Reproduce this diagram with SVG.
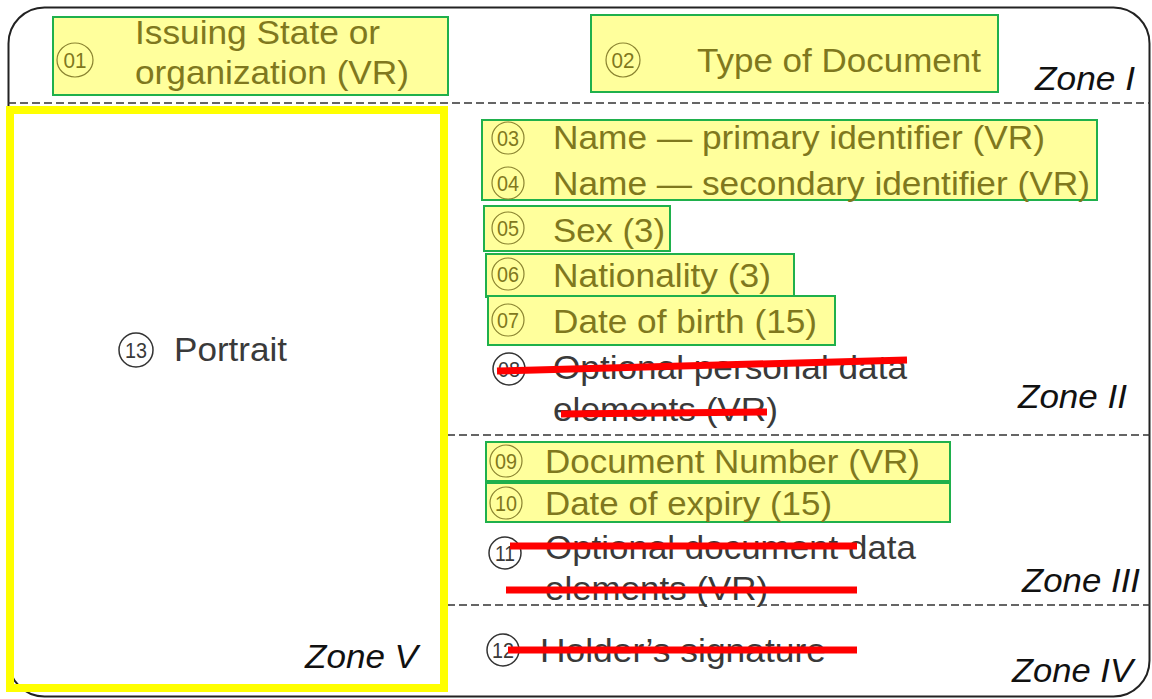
<svg xmlns="http://www.w3.org/2000/svg" width="1152" height="699" viewBox="0 0 1152 699">
<style>
.hl{fill:#ffff9c;stroke:#1fb04c;stroke-width:2}
.t{font-family:"Liberation Sans",Arial,sans-serif;font-size:34px}
.ol{fill:#7f781e}
.dk{fill:#3a3a3a}
.z{font-family:"Liberation Sans",Arial,sans-serif;font-size:34px;font-style:italic;fill:#111}
.n{font-family:"Liberation Sans",Arial,sans-serif;font-size:22px;text-anchor:middle}
.co{fill:none;stroke:#8a8330;stroke-width:1.2}
.cd{fill:none;stroke:#333;stroke-width:1.5}
.dash{stroke:#333;stroke-width:1.5;stroke-dasharray:8 4;fill:none}
.red{stroke:#ff0000;stroke-width:7;stroke-linecap:butt}
</style>
<rect x="0" y="0" width="1152" height="699" fill="#fff"/>
<rect x="8.5" y="7.5" width="1141" height="689" rx="36" fill="none" stroke="#222" stroke-width="2"/>
<g id="connectors">
<line class="dash" x1="8" y1="103" x2="1150" y2="103"/>
<line class="dash" x1="447" y1="435" x2="1150" y2="435"/>
<line class="dash" x1="447" y1="605" x2="1150" y2="605"/>
</g>
<g id="zone5">
<rect x="10" y="110" width="434" height="578" fill="none" stroke="#ffff00" stroke-width="8"/>
<text class="z" x="305" y="668" textLength="113" lengthAdjust="spacingAndGlyphs">Zone V</text>
</g>
<g id="n13">
<circle class="cd" cx="136" cy="350" r="17"/>
<text class="n dk" x="136" y="358" textLength="22" lengthAdjust="spacingAndGlyphs">13</text>
<text class="t dk" x="174" y="361" textLength="113" lengthAdjust="spacingAndGlyphs">Portrait</text>
</g>
<g id="n01">
<rect class="hl" x="53" y="17" width="395" height="78"/>
<ellipse class="co" cx="75" cy="60" rx="18" ry="17"/>
<text class="n ol" x="75" y="68" textLength="23" lengthAdjust="spacingAndGlyphs">01</text>
<text class="t ol" x="135" y="44" textLength="245" lengthAdjust="spacingAndGlyphs">Issuing State or</text>
<text class="t ol" x="135" y="84" textLength="274" lengthAdjust="spacingAndGlyphs">organization (VR)</text>
</g>
<g id="n02">
<rect class="hl" x="591" y="15" width="407" height="77"/>
<circle class="co" cx="623" cy="60" r="17"/>
<text class="n ol" x="623" y="68" textLength="23" lengthAdjust="spacingAndGlyphs">02</text>
<text class="t ol" x="697" y="72" textLength="284" lengthAdjust="spacingAndGlyphs">Type of Document</text>
</g>
<text class="z" x="1035" y="90" textLength="100" lengthAdjust="spacingAndGlyphs">Zone I</text>
<g id="n03-04">
<rect class="hl" x="482" y="120" width="615" height="80"/>
<circle class="co" cx="508" cy="138" r="16"/>
<text class="n ol" x="508" y="146" textLength="22" lengthAdjust="spacingAndGlyphs">03</text>
<text class="t ol" x="553" y="149" textLength="492" lengthAdjust="spacingAndGlyphs">Name — primary identifier (VR)</text>
<circle class="co" cx="508" cy="183" r="16"/>
<text class="n ol" x="508" y="191" textLength="22" lengthAdjust="spacingAndGlyphs">04</text>
<text class="t ol" x="553" y="195" textLength="537" lengthAdjust="spacingAndGlyphs">Name — secondary identifier (VR)</text>
</g>
<g id="n05">
<rect class="hl" x="484" y="206" width="186" height="45"/>
<circle class="co" cx="508" cy="228" r="16"/>
<text class="n ol" x="508" y="236" textLength="22" lengthAdjust="spacingAndGlyphs">05</text>
<text class="t ol" x="553" y="242" textLength="112" lengthAdjust="spacingAndGlyphs">Sex (3)</text>
</g>
<g id="n06">
<rect class="hl" x="486" y="254" width="308" height="43"/>
<circle class="co" cx="508" cy="274" r="16"/>
<text class="n ol" x="508" y="282" textLength="22" lengthAdjust="spacingAndGlyphs">06</text>
<text class="t ol" x="553" y="287" textLength="218" lengthAdjust="spacingAndGlyphs">Nationality (3)</text>
</g>
<g id="n07">
<circle class="co" cx="504" cy="320" r="16" style="stroke:#999"/>
<rect class="hl" x="488" y="296" width="347" height="49"/>
<circle class="co" cx="508" cy="320" r="16"/>
<text class="n ol" x="508" y="328" textLength="22" lengthAdjust="spacingAndGlyphs">07</text>
<text class="t ol" x="553" y="333" textLength="264" lengthAdjust="spacingAndGlyphs">Date of birth (15)</text>
</g>
<g id="n08">
<circle class="cd" cx="509" cy="369" r="16"/>
<text class="n dk" x="509" y="377" textLength="22" lengthAdjust="spacingAndGlyphs">08</text>
<text class="t dk" x="553" y="379" textLength="354" lengthAdjust="spacingAndGlyphs">Optional personal data</text>
<text class="t dk" x="553" y="421" textLength="225" lengthAdjust="spacingAndGlyphs">elements (VR)</text>
<line class="red" x1="497" y1="371" x2="907" y2="360"/>
<line class="red" x1="561" y1="414" x2="767" y2="412"/>
</g>
<text class="z" x="1018" y="408" textLength="109" lengthAdjust="spacingAndGlyphs">Zone II</text>
<g id="n09">
<rect class="hl" x="486" y="442" width="464" height="39"/>
<circle class="co" cx="506" cy="461" r="16"/>
<text class="n ol" x="506" y="469" textLength="22" lengthAdjust="spacingAndGlyphs">09</text>
<text class="t ol" x="545" y="473" textLength="375" lengthAdjust="spacingAndGlyphs">Document Number (VR)</text>
</g>
<g id="n10">
<rect class="hl" x="486" y="483" width="464" height="39"/>
<circle class="co" cx="506" cy="503" r="16"/>
<text class="n ol" x="506" y="511" textLength="22" lengthAdjust="spacingAndGlyphs">10</text>
<text class="t ol" x="545" y="515" textLength="287" lengthAdjust="spacingAndGlyphs">Date of expiry (15)</text>
</g>
<g id="n11">
<circle class="cd" cx="505" cy="553" r="16"/>
<text class="n dk" x="505" y="561" textLength="20" lengthAdjust="spacingAndGlyphs">11</text>
<text class="t dk" x="545" y="559" textLength="371" lengthAdjust="spacingAndGlyphs">Optional document data</text>
<text class="t dk" x="545" y="600" textLength="223" lengthAdjust="spacingAndGlyphs">elements (VR)</text>
<line class="red" x1="510" y1="546" x2="857" y2="546"/>
<line class="red" x1="506" y1="590" x2="857" y2="590"/>
</g>
<text class="z" x="1022" y="592" textLength="118" lengthAdjust="spacingAndGlyphs">Zone III</text>
<g id="n12">
<circle class="cd" cx="503" cy="650" r="16"/>
<text class="n dk" x="503" y="658" textLength="22" lengthAdjust="spacingAndGlyphs">12</text>
<text class="t dk" x="540" y="662" textLength="286" lengthAdjust="spacingAndGlyphs">Holder’s signature</text>
<line class="red" x1="508" y1="650" x2="857" y2="650"/>
</g>
<text class="z" x="1012" y="682" textLength="121" lengthAdjust="spacingAndGlyphs">Zone IV</text>
</svg>
